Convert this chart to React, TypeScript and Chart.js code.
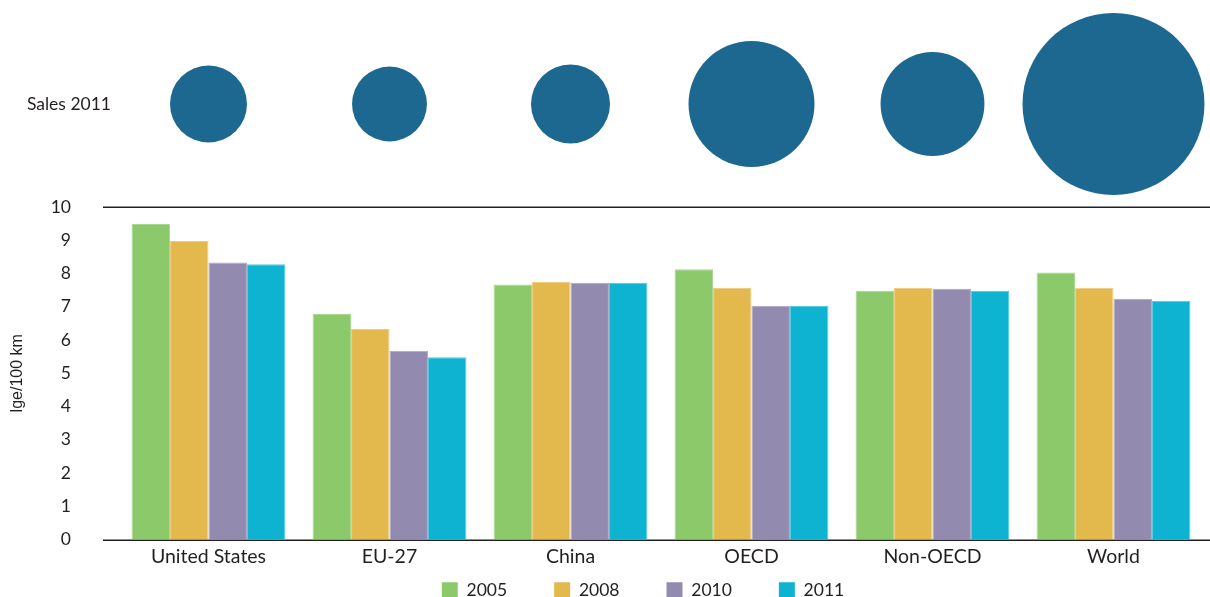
import React, { useEffect, useRef } from "react";
import { Chart, registerables } from "chart.js";

Chart.register(...registerables);

const categories = ["United States", "EU-27", "China", "OECD", "Non-OECD", "World"];
const years = ["2005", "2008", "2010", "2011"];
const values2005 = [9.49, 6.78, 7.67, 8.13, 7.48, 8.03];
const values2008 = [8.98, 6.33, 7.75, 7.57, 7.57, 7.57];
const values2010 = [8.33, 5.68, 7.72, 7.03, 7.54, 7.24];
const values2011 = [8.28, 5.48, 7.72, 7.03, 7.48, 7.18];
const sales2011 = [12.25, 11.6, 12.9, 32.8, 22.3, 68.4];
const bubbleRowLabel = "Sales 2011";
const yTicks = [0, 1, 2, 3, 4, 5, 6, 7, 8, 9, 10];
const yTitle = "lge/100 km";

const seriesValues = [values2005, values2008, values2010, values2011];
const seriesColors = ["#8cc96a", "#e3b94e", "#938ab0", "#0fb3d2"];
const seriesBorders = ["#a9d78e", "#ecca78", "#aba4c4", "#55c9e0"];
const BUBBLE_COLOR = "#1d6890";
const BUBBLE_SCALE = 11;
const TEXT = "#231f20";
const FONT = 'Lato, "Noto Sans", sans-serif';

const W = 1210;

const axisLines = {
  id: "axisLines",
  beforeDatasetsDraw(chart: any) {
    const { ctx, chartArea } = chart;
    const y = chart.scales.y;
    ctx.save();
    ctx.strokeStyle = TEXT;
    ctx.lineWidth = 1.5;
    for (const v of [yTicks[yTicks.length - 1], yTicks[0]]) {
      const py = Math.round(y.getPixelForValue(v)) + 0.25;
      ctx.beginPath();
      ctx.moveTo(chartArea.left - 15, py);
      ctx.lineTo(chart.width, py);
      ctx.stroke();
    }
    ctx.restore();
  },
};

export default function App() {
  const barRef = useRef<HTMLCanvasElement>(null);
  const bubbleRef = useRef<HTMLCanvasElement>(null);
  const legendRef = useRef<HTMLCanvasElement>(null);

  useEffect(() => {
    const bar = new Chart(barRef.current!, {
      type: "bar",
      data: {
        labels: categories,
        datasets: years.map((yr, i) => ({
          label: yr,
          data: seriesValues[i],
          backgroundColor: seriesColors[i],
          borderColor: seriesBorders[i],
          borderWidth: 1,
          categoryPercentage: 0.85,
          barPercentage: 1,
        })),
      },
      options: {
        responsive: false,
        animation: false,
        events: [],
        layout: { padding: { left: 0, right: 6, top: 207, bottom: 26 } },
        plugins: { tooltip: { enabled: false }, legend: { display: false } },
        scales: {
          x: {
            offset: true,
            grid: { display: false, drawTicks: false },
            border: { display: false },
            ticks: { color: TEXT, font: { family: FONT, size: 19.5 }, padding: 6 },
            afterFit: (s: any) => {
              s.height = 30;
            },
          },
          y: {
            min: yTicks[0],
            max: yTicks[yTicks.length - 1],
            afterBuildTicks: (s: any) => {
              s.ticks = yTicks.map((v) => ({ value: v }));
            },
            grid: { display: false, drawTicks: false },
            border: { display: false },
            ticks: { color: TEXT, font: { family: FONT, size: 17.5 }, padding: 47 },
            title: {
              display: true,
              text: yTitle,
              color: TEXT,
              font: { family: '"Liberation Sans", Arial, sans-serif', size: 16 },
              padding: { top: 8, bottom: 0 },
            },
            afterFit: (s: any) => {
              s.width = 118;
            },
          },
        },
      },
      plugins: [axisLines],
    });

    const bubble = new Chart(bubbleRef.current!, {
      type: "bubble",
      data: {
        labels: categories,
        datasets: [
          {
            label: bubbleRowLabel,
            data: categories.map((c, i) => ({
              x: c,
              y: bubbleRowLabel,
              r: Math.sqrt(sales2011[i]) * BUBBLE_SCALE,
            })) as any,
            backgroundColor: BUBBLE_COLOR,
            borderColor: BUBBLE_COLOR,
            borderWidth: 0,
            clip: false as any,
          },
        ],
      },
      options: {
        responsive: false,
        animation: false,
        events: [],
        layout: { autoPadding: false, padding: { left: 0, right: 6, top: 0, bottom: 0 } },
        plugins: { legend: { display: false }, tooltip: { enabled: false } },
        scales: {
          x: { type: "category", labels: categories, offset: true, display: false },
          y: {
            type: "category",
            labels: [bubbleRowLabel],
            offset: true,
            grid: { display: false, drawTicks: false },
            border: { display: false },
            ticks: { color: TEXT, font: { family: FONT, size: 17.5 }, padding: 7 },
            afterFit: (s: any) => {
              s.width = 118;
            },
          },
        },
      },
    });

    const legend = new Chart(legendRef.current!, {
      type: "bar",
      data: {
        labels: categories,
        datasets: years.map((yr, i) => ({
          label: yr,
          data: [],
          backgroundColor: seriesColors[i],
          borderColor: seriesColors[i],
          borderWidth: 0,
        })),
      },
      options: {
        responsive: false,
        animation: false,
        events: [],
        layout: { padding: { left: 82, right: 6, top: 0, bottom: 0 } },
        plugins: {
          tooltip: { enabled: false },
          legend: {
            position: "bottom",
            labels: {
              boxWidth: 16,
              boxHeight: 16,
              padding: 47,
              color: TEXT,
              font: { family: FONT, size: 17.5 },
            },
          },
        },
        scales: { x: { display: false }, y: { display: false } },
      },
    });

    return () => {
      bar.destroy();
      bubble.destroy();
      legend.destroy();
    };
  }, []);

  return (
    <div
      style={{
        position: "absolute",
        left: 0,
        top: 0,
        width: W,
        height: 597,
        overflow: "hidden",
        background: "#fff",
      }}
    >
      <canvas ref={legendRef} width={W} height={609} style={{ position: "absolute", left: 0, top: 0 }} />
      <canvas ref={barRef} width={W} height={597} style={{ position: "absolute", left: 0, top: 0 }} />
      <canvas ref={bubbleRef} width={W} height={208} style={{ position: "absolute", left: 0, top: 0 }} />
    </div>
  );
}
